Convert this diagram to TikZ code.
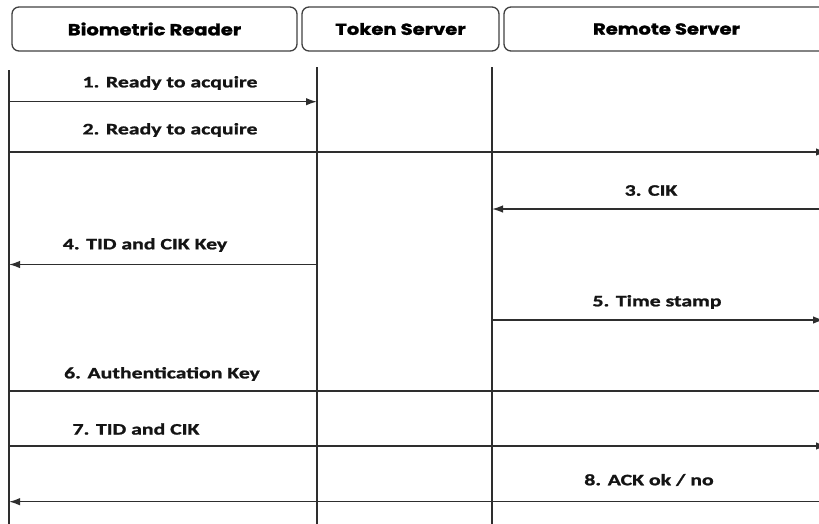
\documentclass[tikz,border=0pt]{standalone}
\usepackage{fontspec}
\setmainfont{Carlito}
\newfontfamily\labfont[FakeStretch=1.36, BoldFeatures={FakeBold=1.3}]{Carlito}
\newfontfamily\hdrfont[FakeStretch=1.22, BoldFeatures={FakeBold=1.5}]{Poppins}
\usetikzlibrary{arrows.meta}
\begin{document}
\begin{tikzpicture}[x=1pt,y=-1pt,
  lline/.style={draw=black!82, line width=1.5pt},
  msg/.style={lline, -{Latex[length=11pt,width=7.5pt]}},
  hdr/.style={draw=black!75, line width=1.3pt, rounded corners=7pt, minimum height=44pt, inner sep=0pt, font=\hdrfont\bfseries\fontsize{16}{19}\selectfont},
  lab/.style={font=\labfont\bfseries\fontsize{16}{19}\selectfont, inner sep=0pt, text=black!92}]
\useasboundingbox (0,0) rectangle (819,523);
\clip (0,0) rectangle (819,523);
% headers
\node[hdr, minimum width=285pt] (hb) at (154.5,29) {Biometric Reader};
\node[hdr, minimum width=197pt] (ht) at (400.5,29) {Token Server};
\node[hdr, minimum width=325pt] (hr) at (666.5,29) {Remote Server};
% lifelines
\coordinate (bTop) at (9,70);   \coordinate (bBot) at (9,526);
\coordinate (tTop) at (317,67); \coordinate (tBot) at (317,526);
\coordinate (mTop) at (492,67); \coordinate (mBot) at (492,526);
\draw[lline] (bTop) -- (bBot);
\draw[lline] (tTop) -- (tBot);
\draw[lline] (mTop) -- (mBot);
% message end points
\coordinate (b1) at (9,101.7);  \coordinate (t1) at (317,101.7);
\coordinate (b2) at (9,152);    \coordinate (e2) at (827,152);
\coordinate (e3) at (830,209);  \coordinate (m3) at (492,209);
\coordinate (t4) at (317,264.5);\coordinate (b4) at (9,264.5);
\coordinate (m5) at (492,320);  \coordinate (e5) at (824,320);
\coordinate (b6) at (9,391);    \coordinate (e6) at (830,391);
\coordinate (b7) at (9,446);    \coordinate (e7) at (827,446);
\coordinate (e8) at (830,501.7);\coordinate (b8) at (9,501.7);
% messages
\draw[msg] (b1) -- (t1);
\draw[msg] (b2) -- (e2);
\draw[msg] (e3) -- (m3);
\draw[msg] (t4) -- (b4);
\draw[msg] (m5) -- (e5);
\draw[lline] (b6) -- (e6);
\draw[msg] (b7) -- (e7);
\draw[msg] (e8) -- (b8);
% labels
\node[lab] (l1) at (170,83) {1. Ready to acquire};
\node[lab] (l2) at (170,130) {2. Ready to acquire};
\node[lab] (l3) at (651,190.5) {3. CIK};
\node[lab] (l4) at (145,245) {4. TID and CIK Key};
\node[lab] (l5) at (657,302) {5. Time stamp};
\node[lab] (l6) at (162,374) {6. Authentication Key};
\node[lab] (l7) at (136,429) {7. TID and CIK};
\node[lab] (l8) at (649,480) {8. ACK ok / no};
\end{tikzpicture}
\end{document}
